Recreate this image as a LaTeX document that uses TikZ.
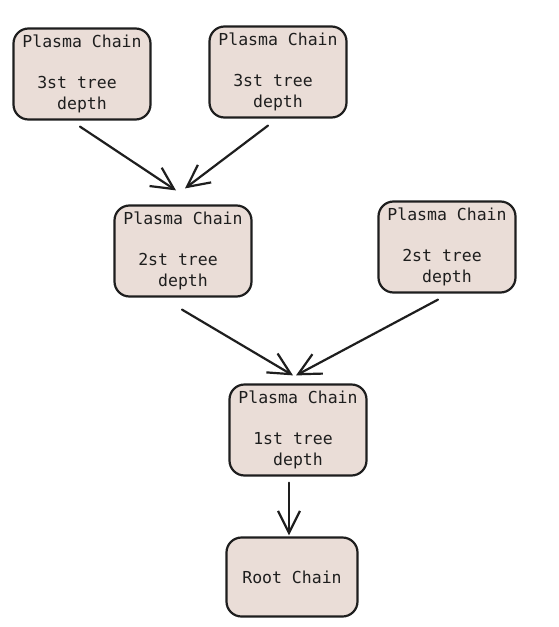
\documentclass[tikz,border=0pt]{standalone}
\usepackage{fontspec}
\setmonofont{DejaVu Sans Mono}
\usetikzlibrary{arrows.meta,calc}
\definecolor{boxfill}{HTML}{EADDD7}
\definecolor{ink}{HTML}{1E1E1E}
\tikzset{
  chainbox/.style={draw=ink, fill=boxfill, line width=2.2pt, rounded corners=15pt,
    minimum width=137pt, minimum height=91pt, inner sep=0pt, align=center,
    font=\ttfamily\fontsize{16.5}{20.5}\selectfont, text=ink},
  link/.style={draw=ink, line width=2.2pt, line cap=round,
    -{Straight Barb[length=22pt,width=22pt,line width=2.2pt]}},
}
\begin{document}
\begin{tikzpicture}[x=1pt,y=-1pt]
\useasboundingbox[fill=white] (0,0) rectangle (558,627);
\node[chainbox] (a) at (82,74) {Plasma Chain\\[20.5pt]3st tree\hphantom{x}\\depth};
\node[chainbox] (b) at (278,72) {Plasma Chain\\[20.5pt]3st tree\hphantom{x}\\depth};
\node[chainbox] (c) at (183,251) {Plasma Chain\\[20.5pt]2st tree\hphantom{x}\\depth};
\node[chainbox] (d) at (447,247) {Plasma Chain\\[20.5pt]2st tree\hphantom{x}\\depth};
\node[chainbox] (e) at (298,430) {Plasma Chain\\[20.5pt]1st tree\hphantom{x}\\depth};
\node[chainbox, minimum width=131pt, minimum height=79pt] (f) at (292,577) {Root Chain};
\draw[link] ($(a.south)+(-2,6)$) -- ($(c.north)+(-7,-14)$);
\draw[link] ($(b.south)+(-10,7)$) -- ($(c.north)+(2,-16)$);
\draw[link] ($(c.south)+(-1,12)$) -- ($(e.north)+(-5,-8)$);
\draw[link] ($(d.south)+(-9,6)$) -- ($(e.north)+(-2,-8)$);
\draw[link] ($(e.south)+(-9,6)$) -- ($(f.north)+(-3,-1)$);
\end{tikzpicture}
\end{document}
